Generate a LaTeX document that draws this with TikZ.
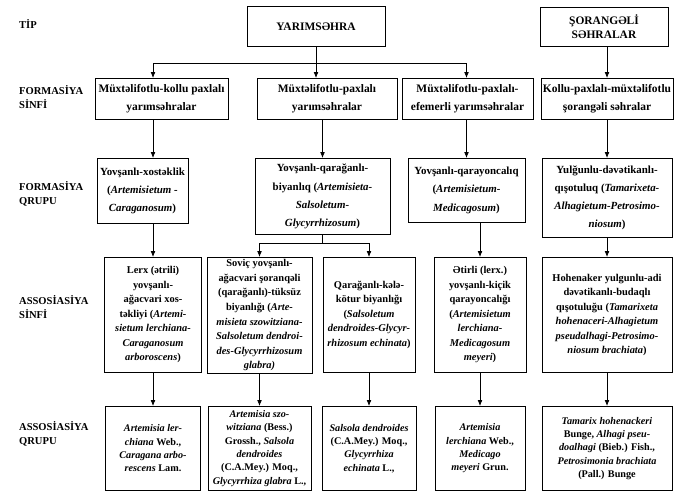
\documentclass[tikz,border=0pt]{standalone}
\usepackage{fontspec}
\setmainfont{Liberation Serif}
\usetikzlibrary{arrows.meta}

\begin{document}
\begin{tikzpicture}[x=0.03cm, y=-0.03cm,
  box/.style={draw, line width=0.6pt, anchor=north, align=center, inner xsep=0.5pt, inner ysep=2pt},
  tiprow/.style={box, minimum height=1.2cm, font=\bfseries\fontsize{9.8}{12}\selectfont},
  fsrow/.style={box, minimum height=1.23cm, font=\bfseries\fontsize{9.8}{15.4}\selectfont},
  fqrow/.style={box, font=\bfseries\fontsize{9.3}{15.4}\selectfont},
  lsrow/.style={box, minimum height=3.45cm, font=\bfseries\fontsize{8.9}{12.4}\selectfont},
  lqrow/.style={box, minimum height=2.52cm, font=\bfseries\fontsize{8.7}{11.4}\selectfont},
  lab/.style={anchor=west, align=left, font=\bfseries\fontsize{9}{12}\selectfont},
  arr/.style={-{Latex[length=5pt,width=4pt]}, line width=0.6pt}]
\useasboundingbox (0,0) rectangle (676,492);

% left column labels
\node[lab] (tip) at (15,24) {TİP};
\node[lab] (fsinfi) at (15,97) {FORMASİYA\\SİNFİ};
\node[lab] (fqrupu) at (15,194) {FORMASİYA\\QRUPU};
\node[lab] (asinfi) at (15,307) {ASSOSİASİYA\\SİNFİ};
\node[lab] (aqrupu) at (15,434) {ASSOSİASİYA\\QRUPU};

% TIP
\node[tiprow, minimum width=4.14cm] (yarim) at (316,6) {YARIMSƏHRA};
\node[tiprow, minimum width=3.84cm, minimum height=1.17cm] (soran) at (604,7) {ŞORANGƏLİ\\SƏHRALAR};

% FORMASIYA SINFI
\node[fsrow, minimum width=3.99cm] (fs1) at (161.5,78) {Müxtəlifotlu-kollu paxlalı\\yarımsəhralar};
\node[fsrow, minimum width=4.2cm] (fs2) at (327,78) {Müxtəlifotlu-paxlalı\\yarımsəhralar};
\node[fsrow, minimum width=3.93cm] (fs3) at (467.5,78) {Müxtəlifotlu-paxlalı-\\efemerli yarımsəhralar};
\node[fsrow, minimum width=3.96cm] (fs4) at (607,78) {Kollu-paxlalı-müxtəlifotlu\\şorangəli səhralar};

% FORMASIYA QRUPU
\node[fqrow, minimum width=2.73cm, minimum height=1.95cm] (fq1) at (142.5,158)
  {Yovşanlı-xostəklik\\(\textit{Artemisietum -}\\\textit{Caraganosum})};
\node[fqrow, minimum width=4.05cm, minimum height=2.28cm] (fq2) at (322.5,158)
  {Yovşanlı-qarağanlı-\\biyanlıq (\textit{Artemisieta-}\\\textit{Salsoletum-}\\\textit{Glycyrrhizosum})};
\node[fqrow, minimum width=3.51cm, minimum height=1.92cm] (fq3) at (466.5,158)
  {Yovşanlı-qarayoncalıq\\(\textit{Artemisietum-}\\\textit{Medicagosum})};
\node[fqrow, minimum width=3.9cm, minimum height=2.37cm] (fq4) at (607,158)
  {Yulğunlu-dəvətikanlı-\\qışotuluq (\textit{Tamarixeta-}\\\textit{Alhagietum-Petrosimo-}\\\textit{niosum})};

% ASSOSIASIYA SINFI
\node[lsrow, minimum width=2.91cm] (ls1) at (153,257)
  {Lerx (ətrili)\\yovşanlı-\\ağacvari xos-\\təkliyi (\textit{Artemi-}\\\textit{sietum lerchiana-}\\\textit{Caraganosum}\\\textit{arboroscens})};
\node[lsrow, minimum width=3.15cm] (ls2) at (259.5,257)
  {Soviç yovşanlı-\\ağacvari şoranqəli\\(qarağanlı)-tüksüz\\biyanlığı (\textit{Arte-}\\\textit{misieta szowitziana-}\\\textit{Salsoletum dendroi-}\\\textit{des-Glycyrrhizosum}\\\textit{glabra)}};
\node[lsrow, minimum width=2.76cm] (ls2b) at (369,257)
  {Qarağanlı-kələ-\\kötur biyanlığı\\(\textit{Salsoletum}\\\textit{dendroides-Glycyr-}\\\textit{rhizosum echinata})};
\node[lsrow, minimum width=2.76cm] (ls3) at (480,257)
  {Ətirli (lerx.)\\yovşanlı-kiçik\\qarayoncalığı\\(\textit{Artemisietum}\\\textit{lerchiana-}\\\textit{Medicagosum}\\\textit{meyeri})};
\node[lsrow, minimum width=3.9cm] (ls4) at (607,257)
  {Hohenaker yulgunlu-adi\\dəvətikanlı-budaqlı\\qışotuluğu (\textit{Tamarixeta}\\\textit{hohenaceri-Alhagietum}\\\textit{pseudalhagi-Petrosimo-}\\\textit{niosum brachiata})};

% ASSOSIASIYA QRUPU
\node[lqrow, minimum width=2.85cm] (lq1) at (153,406)
  {\textit{Artemisia ler-}\\\textit{chiana} Web.,\\\textit{Caragana arbo-}\\\textit{rescens} Lam.};
\node[lqrow, minimum width=3.09cm] (lq2) at (259.5,406)
  {\textit{Artemisia szo-}\\\textit{witziana} (Bess.)\\Grossh., \textit{Salsola}\\\textit{dendroides}\\(C.A.Mey.) Moq.,\\\textit{Glycyrrhiza glabra} L.,};
\node[lqrow, minimum width=2.82cm] (lq2b) at (369,406)
  {\textit{Salsola dendroides}\\(C.A.Mey.) Moq.,\\\textit{Glycyrrhiza}\\\textit{echinata} L.,};
\node[lqrow, minimum width=2.7cm] (lq3) at (480,406)
  {\textit{Artemisia}\\\textit{lerchiana} Web.,\\\textit{Medicago}\\\textit{meyeri} Grun.};
\node[lqrow, minimum width=3.9cm] (lq4) at (607,406)
  {\textit{Tamarix hohenackeri}\\Bunge, \textit{Alhagi pseu-}\\\textit{doalhagi} (Bieb.) Fish.,\\\textit{Petrosimonia brachiata}\\(Pall.) Bunge};

% connectors
\coordinate (j1) at (316,63);
\coordinate (j2) at (322.5,243);
\draw[line width=0.6pt] (yarim.south) -- (j1);
\draw[arr] (j1) -| (fs1.north -| ls1.north);
\draw[arr] (j1) -- (fs2.north -| j1);
\draw[arr] (j1) -| (fs3.north -| fq3.north);
\draw[arr] (soran.south -| fs4.north) -- (fs4.north);
\draw[arr] (fs1.south -| ls1.north) -- (fq1.north -| ls1.north);
\draw[arr] (fs2.south -| fq2.north) -- (fq2.north);
\draw[arr] (fs3.south -| fq3.north) -- (fq3.north);
\draw[arr] (fs4.south) -- (fq4.north);
\draw[arr] (fq1.south -| ls1.north) -- (ls1.north);
\draw[line width=0.6pt] (fq2.south) -- (j2);
\draw[arr] (j2) -| (ls2.north);
\draw[arr] (j2) -| (ls2b.north);
\draw[arr] (fq3.south -| ls3.north) -- (ls3.north);
\draw[arr] (fq4.south) -- (ls4.north);
\foreach \a/\b in {ls1/lq1, ls2/lq2, ls2b/lq2b, ls3/lq3, ls4/lq4}
  \draw[arr] (\a.south) -- (\b.north);
\end{tikzpicture}
\end{document}
